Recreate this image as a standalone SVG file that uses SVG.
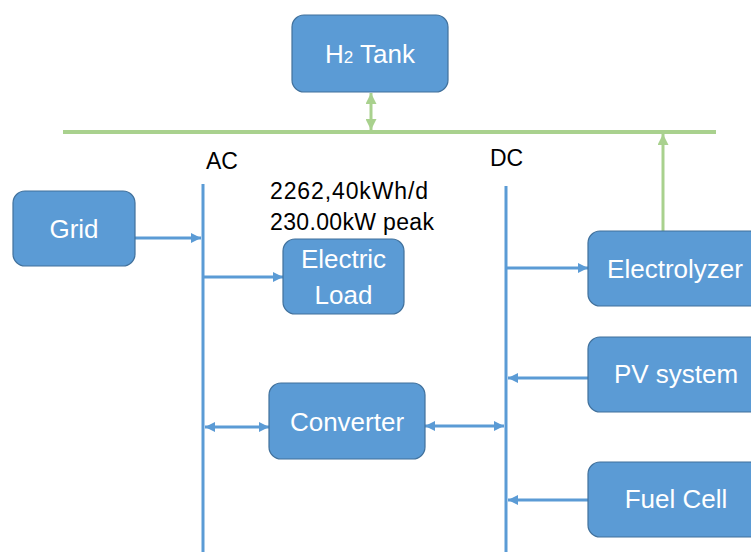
<svg xmlns="http://www.w3.org/2000/svg" width="751" height="552" viewBox="0 0 751 552">
<style>
.box{fill:#5B9BD5;stroke:#41719C;stroke-width:1.2}
.bt{font-family:"Liberation Sans",Arial,sans-serif;font-size:26px;fill:#FFFFFF;text-anchor:middle}
.lbl{font-family:"Liberation Sans",Arial,sans-serif;font-size:23px;fill:#000000}
.num{font-family:"Liberation Sans",Arial,sans-serif;font-size:23px;fill:#000000}
.bl{stroke:#5B9BD5;stroke-width:3;fill:none}
.gl{stroke:#A9D18E;stroke-width:3;fill:none}
</style>
<defs>
<marker id="ab" viewBox="0 0 10 10" refX="10" refY="5" markerWidth="10" markerHeight="10" markerUnits="userSpaceOnUse" orient="auto-start-reverse">
<path d="M0,0 L10,5 L0,10 z" fill="#5B9BD5"/>
</marker>
<marker id="ag" viewBox="0 0 10 10" refX="10" refY="5" markerWidth="11" markerHeight="11" markerUnits="userSpaceOnUse" orient="auto-start-reverse">
<path d="M0,0 L10,5 L0,10 z" fill="#A9D18E"/>
</marker>
</defs>
<rect width="751" height="552" fill="#FFFFFF"/>
<g id="connectors">
<line x1="63" y1="132" x2="716" y2="132" stroke="#A9D18E" stroke-width="4"/>
<line x1="203" y1="184" x2="203" y2="552" class="bl"/>
<line x1="506" y1="186" x2="506" y2="552" class="bl"/>
<line x1="371" y1="93" x2="371" y2="130" class="gl" marker-start="url(#ag)" marker-end="url(#ag)"/>
<line x1="663" y1="231" x2="663" y2="134" class="gl" marker-end="url(#ag)"/>
<line x1="135" y1="238" x2="201" y2="238" class="bl" marker-end="url(#ab)"/>
<line x1="204" y1="277" x2="283" y2="277" class="bl" marker-end="url(#ab)"/>
<line x1="205" y1="427" x2="269" y2="427" class="bl" marker-start="url(#ab)" marker-end="url(#ab)"/>
<line x1="425" y1="426" x2="504" y2="426" class="bl" marker-start="url(#ab)" marker-end="url(#ab)"/>
<line x1="507" y1="268" x2="588" y2="268" class="bl" marker-end="url(#ab)"/>
<line x1="588" y1="378" x2="508" y2="378" class="bl" marker-end="url(#ab)"/>
<line x1="588" y1="500" x2="508" y2="500" class="bl" marker-end="url(#ab)"/>
</g>
<g id="labels">
<text x="206" y="169" class="lbl">AC</text>
<text x="490" y="166" class="lbl">DC</text>
<text x="270" y="199" class="num" textLength="158" lengthAdjust="spacing">2262,40kWh/d</text>
<text x="270" y="230" class="num" textLength="164" lengthAdjust="spacing">230.00kW peak</text>
</g>
<g id="h2tank">
<rect x="292" y="15" width="156" height="77" rx="12" class="box"/>
<text x="370" y="63" class="bt">H<tspan font-size="17">2</tspan> Tank</text>
</g>
<g id="grid">
<rect x="13" y="191" width="122" height="75" rx="12" class="box"/>
<text x="74" y="238" class="bt">Grid</text>
</g>
<g id="electricload">
<rect x="283" y="239" width="121" height="75" rx="12" class="box"/>
<text x="343.5" y="268" class="bt">Electric</text>
<text x="343.5" y="304" class="bt">Load</text>
</g>
<g id="converter">
<rect x="269" y="383" width="156" height="76" rx="12" class="box"/>
<text x="347" y="431" class="bt">Converter</text>
</g>
<g id="electrolyzer">
<rect x="588" y="231" width="174" height="75" rx="12" class="box"/>
<text x="675" y="278" class="bt">Electrolyzer</text>
</g>
<g id="pvsystem">
<rect x="588" y="337" width="174" height="75" rx="12" class="box"/>
<text x="676" y="383" class="bt">PV system</text>
</g>
<g id="fuelcell">
<rect x="588" y="462" width="174" height="75" rx="12" class="box"/>
<text x="676" y="508" class="bt">Fuel Cell</text>
</g>
</svg>
